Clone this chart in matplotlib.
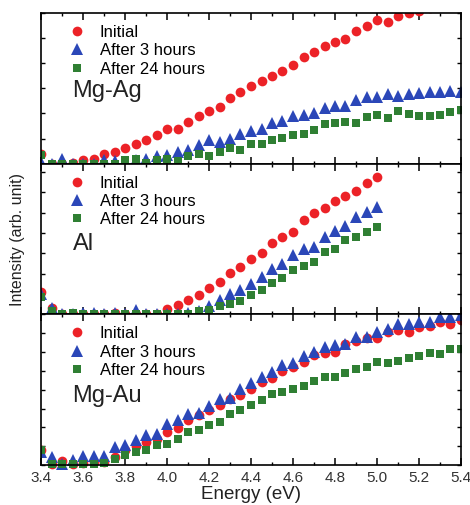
import numpy as np
import matplotlib
matplotlib.use("Agg")
import matplotlib.pyplot as plt
from matplotlib.patches import Rectangle
from matplotlib.ticker import MultipleLocator, NullFormatter

plt.rcParams['font.family'] = ['Liberation Sans', 'DejaVu Sans']

energy = np.round(np.arange(3.4, 5.4001, 0.05), 2)
energy_al = energy[:33]

# Mg-Ag panel
mgag_initial = [0.40, 0.0, 0.0, 0.03, 0.16, 0.20, 0.37, 0.47, 0.64, 0.77, 0.93, 1.13, 1.37, 1.40,
                1.67, 1.91, 2.11, 2.24, 2.60, 2.87, 3.09, 3.29, 3.49, 3.71, 3.93, 4.24, 4.44, 4.67,
                4.83, 4.96, 5.27, 5.47, 5.71, 5.64, 5.89, 6.00, 6.07, 6.20, 6.35, 6.50, 6.60]
mgag_3h = [0.07, 0.0, 0.20, 0.0, 0.0, 0.0, 0.16, 0.10, 0.0, 0.13, 0.20, 0.30, 0.33, 0.47,
           0.53, 0.73, 0.96, 0.87, 1.00, 1.20, 1.31, 1.40, 1.60, 1.71, 1.89, 1.93, 2.03, 2.20,
           2.29, 2.29, 2.53, 2.64, 2.64, 2.77, 2.69, 2.77, 2.80, 2.84, 2.87, 2.91, 2.85]
mgag_24h = [0.35, 0.0, 0.0, 0.0, 0.0, 0.0, 0.0, 0.0, 0.16, 0.20, 0.04, 0.16, 0.20, 0.10,
            0.29, 0.37, 0.29, 0.47, 0.63, 0.53, 0.77, 0.77, 0.96, 1.04, 1.16, 1.20, 1.36, 1.57,
            1.63, 1.67, 1.60, 1.87, 1.93, 1.80, 2.11, 1.96, 1.91, 1.89, 1.93, 2.07, 2.13]

# Al panel
al_initial = [1.09, 0.31, 0.0, 0.0, 0.0, 0.0, 0.03, 0.08, 0.0, 0.0, 0.0, 0.03, 0.28, 0.44,
              0.72, 0.93, 1.31, 1.58, 2.03, 2.32, 2.73, 3.01, 3.50, 3.82, 4.04, 4.61, 4.98,
              5.23, 5.56, 5.83, 6.08, 6.44, 6.76]
al_3h = [1.01, 0.31, 0.0, 0.0, 0.08, 0.08, 0.03, 0.08, 0.03, 0.23, 0.0, 0.03, 0.0, 0.03,
         0.07, 0.16, 0.39, 0.69, 0.98, 1.21, 1.47, 1.83, 2.24, 2.45, 2.89, 3.22, 3.33,
         3.82, 4.08, 4.36, 4.77, 5.02, 5.29]
al_24h = [0.85, 0.16, 0.0, 0.07, 0.0, 0.0, 0.0, 0.0, 0.0, 0.0, 0.0, 0.0, 0.0, 0.0,
          0.03, 0.16, 0.20, 0.39, 0.49, 0.65, 0.93, 1.18, 1.54, 1.80, 2.19, 2.35, 2.57,
          3.06, 3.22, 3.63, 3.79, 4.04, 4.31]

# Mg-Au panel
mgau_initial = [0.80, 0.05, 0.21, 0.04, 0.11, 0.16, 0.16, 0.43, 0.78, 0.99, 1.22, 1.40, 1.76, 1.99,
                2.41, 2.64, 2.91, 3.17, 3.48, 3.71, 4.06, 4.41, 4.63, 5.00, 5.18, 5.48, 5.83, 5.96,
                6.01, 6.42, 6.60, 6.72, 6.72, 7.07, 7.16, 7.07, 7.34, 7.38, 7.60, 7.48, 7.70]
mgau_3h = [0.70, 0.43, 0.07, 0.28, 0.48, 0.48, 0.48, 0.96, 1.05, 1.31, 1.58, 1.67, 2.20, 2.38,
           2.69, 2.77, 3.12, 3.48, 3.58, 4.01, 4.33, 4.68, 4.95, 5.30, 5.43, 5.78, 6.01, 6.24,
           6.37, 6.45, 6.81, 6.77, 7.07, 7.20, 7.48, 7.48, 7.60, 7.60, 7.87, 7.87, 7.96]
mgau_24h = [0.78, 0.04, 0.04, 0.04, 0.04, 0.04, 0.11, 0.34, 0.51, 0.69, 0.82, 1.05, 1.13, 1.40,
            1.76, 1.88, 2.11, 2.29, 2.70, 2.91, 3.17, 3.44, 3.76, 3.88, 4.01, 4.18, 4.47, 4.68,
            4.68, 4.86, 5.12, 5.18, 5.48, 5.43, 5.53, 5.66, 5.78, 5.96, 5.89, 6.14, 6.14]

series_labels = ["Initial", "After 3 hours", "After 24 hours"]
panel_names = ["Mg-Ag", "Al", "Mg-Au"]
xticks = [3.4, 3.6, 3.8, 4.0, 4.2, 4.4, 4.6, 4.8, 5.0, 5.2, 5.4]

red = "#ec2227"
blue = "#2b47b8"
green = "#2f7f33"

fig = plt.figure(figsize=(4.70, 5.05), dpi=100)
left, right = 41 / 470, 461 / 470
bottom, top = 1 - 465 / 505, 1 - 13 / 505
h = (top - bottom) / 3

panels = [
    (panel_names[0], energy, mgag_initial, mgag_3h, mgag_24h, 6.0, 0.48),
    (panel_names[1], energy_al, al_initial, al_3h, al_24h, 7.4, 0.47),
    (panel_names[2], energy, mgau_initial, mgau_3h, mgau_24h, 8.0, 0.46),
]

axes = []
for i, (name, x, yi, y3, y24, ymax, ty) in enumerate(panels):
    ax = fig.add_axes([left, top - (i + 1) * h, right - left, h])
    axes.append(ax)
    clip = Rectangle((0, -0.06), 1, 1.06, transform=ax.transAxes, facecolor='none', edgecolor='none')
    ax.add_patch(clip)
    l1, = ax.plot(x, yi, 'o', color=red, ms=7.0, mec=red, mew=0, label=series_labels[0])
    l2, = ax.plot(x, y3, '^', color=blue, ms=8.2, mec=blue, mew=0, label=series_labels[1])
    l3, = ax.plot(x, y24, 's', color=green, ms=6.3, mec=green, mew=0, label=series_labels[2])
    for ln in (l1, l2, l3):
        ln.set_clip_path(clip)
    ax.set_xlim(3.4, 5.4)
    ax.set_ylim(0, ymax)
    ax.xaxis.set_major_locator(MultipleLocator(0.2))
    ax.xaxis.set_minor_locator(MultipleLocator(0.1))
    ax.yaxis.set_major_locator(MultipleLocator(1.0))
    ax.yaxis.set_major_formatter(NullFormatter())
    ax.tick_params(axis='x', which='major', direction='in', top=True, bottom=True, length=5, width=1.1)
    ax.tick_params(axis='x', which='minor', direction='in', top=True, bottom=True, length=2.5, width=1.0)
    ax.tick_params(axis='y', which='major', direction='in', left=True, right=True, length=3, width=1.0)
    for s in ax.spines.values():
        s.set_linewidth(1.2)
    if i < 2:
        ax.xaxis.set_major_formatter(NullFormatter())
    else:
        ax.set_xticks(xticks)
        ax.set_xticklabels([f"{v:.1f}" for v in xticks], fontsize=11, color="#333333")
        ax.tick_params(axis='x', which='major', pad=4)
        ax.set_xlabel("Energy (eV)", fontsize=13.5, color="#222222", labelpad=1)
    leg = ax.legend(loc='upper left', bbox_to_anchor=(0.045, 0.965), frameon=False,
                    fontsize=12, handletextpad=0.8, labelspacing=0.2, borderaxespad=0,
                    handlelength=1.2)
    ax.text(0.075, ty, name, transform=ax.transAxes, fontsize=17, color="#222222",
            va='center', ha='left')

fig.text(0.038, (bottom + top) / 2, "Intensity (arb. unit)", rotation=90, fontsize=11.5,
         va='center', ha='center', color="#222222")

fig.savefig("out.png", dpi=100)
